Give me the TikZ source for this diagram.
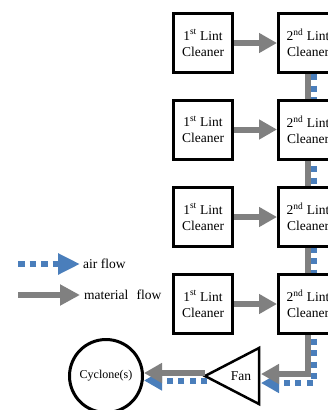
\documentclass[tikz,border=0pt]{standalone}
\usepackage{fontspec}
\setmainfont{Liberation Serif}
\usetikzlibrary{arrows.meta}
\definecolor{flowgray}{HTML}{808080}
\definecolor{airblue}{HTML}{4A7EBB}
\begin{document}
\begin{tikzpicture}[x=1pt,y=-1pt,
  cleaner/.style={draw=black, line width=3pt, fill=white, minimum width=59pt, minimum height=59pt,
    inner sep=0pt, align=center, font=\fontsize{13.5}{16}\selectfont},
  mat/.style={draw=flowgray, line width=6pt},
  mattip/.style={-{Triangle[length=18pt,width=19pt]}},
  air/.style={draw=airblue, line width=6pt, dash pattern=on 6pt off 5.5pt},
  airtip/.style={-{Triangle[length=18pt,width=19pt]}},
  lbl/.style={anchor=west, inner sep=0pt, font=\fontsize{13.5}{16}\selectfont},
]
\useasboundingbox (0,0) rectangle (328,410);
\clip (0,0) rectangle (328,410);

% named coordinates for the air path
\coordinate (airtop) at (314,74);
\coordinate (airR) at (261,383);
\coordinate (matR) at (261,374);

% air flow along the 2nd cleaners (behind the boxes)
\draw[air, airtip] (airtop) |- (airR);

% cleaners
\foreach \i/\y in {1/43, 2/129.5, 3/217, 4/304}{
  \node[cleaner] (a\i) at (203,\y) {1\textsuperscript{st} Lint\\Cleaner};
  \node[cleaner] (b\i) at (308,\y) {2\textsuperscript{nd} Lint\\Cleaner};
  \draw[mat, mattip] (a\i) -- (b\i);
}
\draw[mat] (b1) -- (b2);
\draw[mat] (b2) -- (b3);
\draw[mat] (b3) -- (b4);
\draw[mat, mattip] (b4.south) |- (matR);

% fan
\coordinate (fanTip) at (205,376);
\coordinate (fanTop) at (259,348);
\coordinate (fanBot) at (259,404);
\draw[line width=2.5pt, line join=miter] (fanTip) -- (fanTop) -- (fanBot) -- cycle;
\node[font=\fontsize{13.5}{16}\selectfont, inner sep=0pt] (fan) at (241,376) {Fan};

% cyclone
\node[circle, draw, line width=3pt, minimum size=73pt, inner sep=0pt,
  font=\fontsize{12}{14}\selectfont] (cyc) at (106,376) {Cyclone(s)};

\coordinate (fanOutAir) at (207,380.5);
\coordinate (fanOutMat) at (205,373);
\draw[air, airtip] (fanOutAir) -- (fanOutAir -| cyc.east);
\draw[mat, mattip] (fanOutMat) -- (fanOutMat -| cyc.east);

% legend
\coordinate (la0) at (18,264);
\coordinate (la1) at (80,264);
\coordinate (lm0) at (18,295);
\coordinate (lm1) at (80,295);
\draw[air, dash pattern=on 6.5pt off 5pt, -{Triangle[length=22pt,width=20pt]}] (la0) -- (la1);
\draw[mat, -{Triangle[length=20pt,width=20pt]}] (lm0) -- (lm1);
\node[lbl] (lair) at (83,264) {air flow};
\node[lbl] (lmat) at (84,295) {material\hspace{0.6em}flow};
\end{tikzpicture}
\end{document}
